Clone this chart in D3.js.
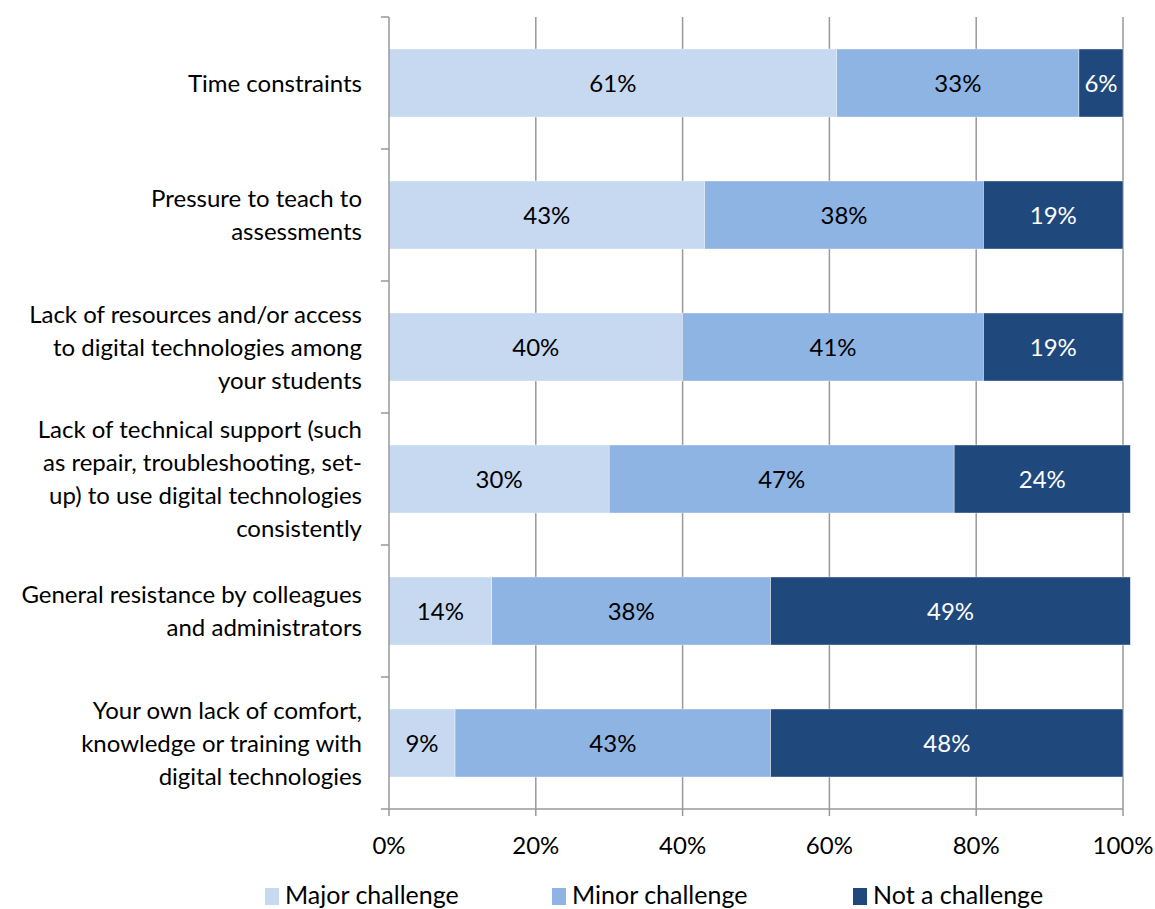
<!DOCTYPE html>
<html>
<head>
<meta charset="utf-8">
<script src="https://cdn.jsdelivr.net/npm/d3@7"></script>
<style>
  body { margin: 0; background: #fff; }
  svg { font-family: Lato, 'Open Sans', sans-serif; }
</style>
</head>
<body>
<svg width="1155" height="909"></svg>
<script>
'use strict';

// categories (label lines, top to bottom)
const categories = [
  ['Time constraints'],
  ['Pressure to teach to', 'assessments'],
  ['Lack of resources and/or access', 'to digital technologies among', 'your students'],
  ['Lack of technical support (such', 'as repair, troubleshooting, set-', 'up) to use digital technologies', 'consistently'],
  ['General resistance by colleagues', 'and administrators'],
  ['Your own lack of comfort,', 'knowledge or training with', 'digital technologies']
]
const seriesNames = ['Major challenge', 'Minor challenge', 'Not a challenge']
const major = [61, 43, 40, 30, 14, 9]
const minor = [33, 38, 41, 47, 38, 43]
const notChallenge = [6, 19, 19, 24, 49, 48]
const xTicks = [0, 20, 40, 60, 80, 100]

const colors = ['#c6d9f1', '#8eb4e3', '#1f497d']
const textColors = ['#000', '#000', '#fff']
const fontSize = 24

const svg = d3.select('svg')
const margin = {top: 17, right: 32, bottom: 100, left: 389}
const width = 1123 - margin.left
const height = 809 - margin.top
const g = svg.append('g').attr('transform', 'translate(' + margin.left + ',' + margin.top + ')')

const rows = categories.map((c, i) => ({
  id: i,
  label: c,
  values: [major[i], minor[i], notChallenge[i]]
}))

const x = d3.scaleLinear().domain([0, 100]).range([0, width])
const y = d3.scaleBand().domain(rows.map((d) => d.id)).range([0, height]).paddingInner(0.485).paddingOuter(0.2425)

// gridlines
g.append('g')
  .selectAll('line')
  .data(xTicks.slice(1))
  .enter().append('line')
  .attr('x1', (d) => x(d)).attr('x2', (d) => x(d))
  .attr('y1', 0).attr('y2', height)
  .attr('stroke', '#999').attr('stroke-width', 1.5)

// bars
rows.forEach((r) => {
  let acc = 0
  const segs = r.values.map((v, k) => {
    const s = {k: k, x0: acc, x1: acc + v, v: v}
    acc += v
    return s
  })
  const row = g.append('g').attr('transform', 'translate(0,' + y(r.id) + ')')
  row.selectAll('rect')
    .data(segs)
    .enter().append('rect')
    .attr('x', (d) => x(d.x0))
    .attr('width', (d) => x(d.x1) - x(d.x0))
    .attr('y', 0)
    .attr('height', y.bandwidth())
    .attr('fill', (d) => colors[d.k])
    .attr('stroke', '#fff').attr('stroke-width', 0.6).attr('stroke-opacity', 0.6)
  row.selectAll('text')
    .data(segs)
    .enter().append('text')
    .attr('x', (d) => x((d.x0 + d.x1) / 2))
    .attr('y', y.bandwidth() / 2)
    .attr('dy', '0.36em')
    .attr('text-anchor', 'middle')
    .attr('font-size', fontSize)
    .attr('fill', (d) => textColors[d.k])
    .text((d) => d.v + '%')
})

// y axis line + ticks between categories
const yAxisG = g.append('g')
yAxisG.append('line')
  .attr('x1', 0).attr('x2', 0).attr('y1', 0).attr('y2', height)
  .attr('stroke', '#999').attr('stroke-width', 1.5)
const bounds = d3.range(rows.length + 1).map((i) => i * y.step())
yAxisG.selectAll('line.tk')
  .data(bounds)
  .enter().append('line').classed('tk', true)
  .attr('x1', -8).attr('x2', 0)
  .attr('y1', (d) => Math.min(d, height)).attr('y2', (d) => Math.min(d, height))
  .attr('stroke', '#999').attr('stroke-width', 1.5)

// category labels
rows.forEach((r) => {
  const n = r.label.length
  const cy = y(r.id) + y.bandwidth() / 2
  const t = g.append('text')
    .attr('text-anchor', 'end')
    .attr('font-size', fontSize)
    .attr('fill', '#000')
  r.label.forEach((line, j) => {
    t.append('tspan')
      .attr('x', -27)
      .attr('y', cy + (j - (n - 1) / 2) * 33)
      .attr('dy', '0.36em')
      .text(line)
  })
})

// x axis
const xAxisG = g.append('g').attr('transform', 'translate(0,' + height + ')')
xAxisG.append('line')
  .attr('x1', 0).attr('x2', width)
  .attr('stroke', '#999').attr('stroke-width', 1.5)
xAxisG.selectAll('line.tk')
  .data(xTicks)
  .enter().append('line').classed('tk', true)
  .attr('x1', (d) => x(d)).attr('x2', (d) => x(d))
  .attr('y1', 0).attr('y2', 7)
  .attr('stroke', '#999').attr('stroke-width', 1.5)
xAxisG.selectAll('text')
  .data(xTicks)
  .enter().append('text')
  .attr('x', (d) => x(d))
  .attr('y', 36)
  .attr('dy', '0.36em')
  .attr('text-anchor', 'middle')
  .attr('font-size', fontSize)
  .text((d) => d + '%')

// legend
const legendX = [265, 552, 853]
const legend = svg.append('g')
seriesNames.forEach((name, k) => {
  legend.append('rect')
    .attr('x', legendX[k]).attr('y', 888)
    .attr('width', 14).attr('height', 17)
    .attr('fill', colors[k])
  legend.append('text')
    .attr('x', legendX[k] + 20).attr('y', 904)
    .attr('font-size', 25)
    .text(name)
})
</script>
</body>
</html>
